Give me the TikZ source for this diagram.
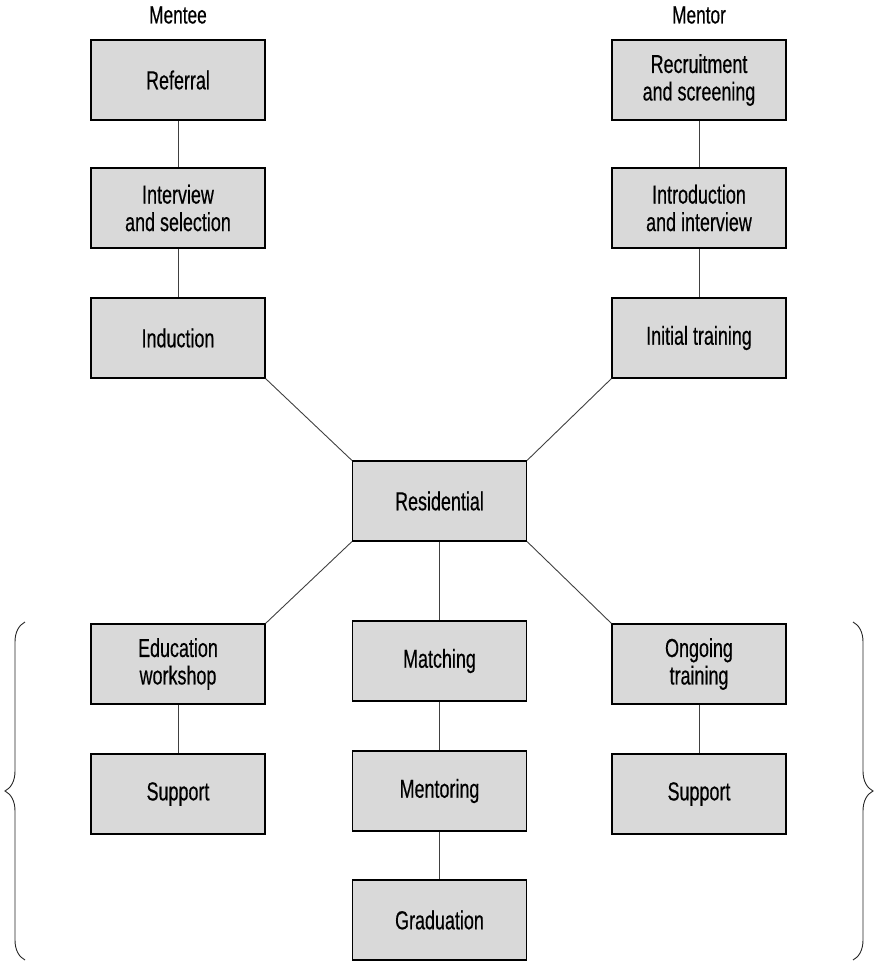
\documentclass[tikz,border=0pt]{standalone}
\usepackage{fontspec}
\setmainfont{Liberation Sans}[FakeStretch=0.69,FakeBold=0.4]
\usetikzlibrary{decorations.pathreplacing}
\begin{document}
\begin{tikzpicture}[x=1pt,y=-1pt,
  stagebox/.style={draw=black,line width=1.2pt,fill=gray!30,minimum width=174pt,minimum height=80pt,inner sep=0pt,align=center,font=\fontsize{26}{27.5}\selectfont,text=black},
  headlabel/.style={font=\fontsize{25}{27}\selectfont,text=black},
  link/.style={draw=black!75,line width=0.9pt},
  bracestyle/.style={draw=black!85,line width=0.9pt,decorate,decoration={brace,amplitude=20pt,aspect=0.5}}]
\useasboundingbox (0,0) rectangle (881,964);
\node[headlabel] (mentee) at (178,15) {Mentee};
\node[headlabel] (mentor) at (699,15) {Mentor};
\node[stagebox] (ref) at (178,80) {Referral};
\node[stagebox] (int) at (178,208) {Interview\\and selection};
\node[stagebox] (ind) at (178,338) {Induction};
\node[stagebox] (rec) at (699,80) {Recruitment\\and screening};
\node[stagebox] (intro) at (699,208) {Introduction\\and interview};
\node[stagebox] (init) at (699,338) {Initial training};
\node[stagebox] (res) at (439.5,501) {Residential};
\node[stagebox] (edu) at (178,664) {Education\\workshop};
\node[stagebox] (supa) at (178,794) {Support};
\node[stagebox] (match) at (439.5,661) {Matching};
\node[stagebox] (ment) at (439.5,791) {Mentoring};
\node[stagebox] (grad) at (439.5,920) {Graduation};
\node[stagebox] (ongo) at (699,664) {Ongoing\\training};
\node[stagebox] (supb) at (699,794) {Support};
\draw[link] (ref) -- (int);
\draw[link] (int) -- (ind);
\draw[link] (rec) -- (intro);
\draw[link] (intro) -- (init);
\draw[link] (ind.south east) -- (res.north west);
\draw[link] (init.south west) -- (res.north east);
\draw[link] (res.south west) -- (edu.north east);
\draw[link] (res.south east) -- (ongo.north west);
\draw[link] (res) -- (match);
\draw[link] (match) -- (ment);
\draw[link] (ment) -- (grad);
\draw[link] (edu) -- (supa);
\draw[link] (ongo) -- (supb);
\coordinate (lb1) at (25,960);
\coordinate (lb2) at (25,622);
\coordinate (rb1) at (853,622);
\coordinate (rb2) at (853,960);
\draw[bracestyle] (lb1) -- (lb2);
\draw[bracestyle] (rb1) -- (rb2);
\end{tikzpicture}
\end{document}
